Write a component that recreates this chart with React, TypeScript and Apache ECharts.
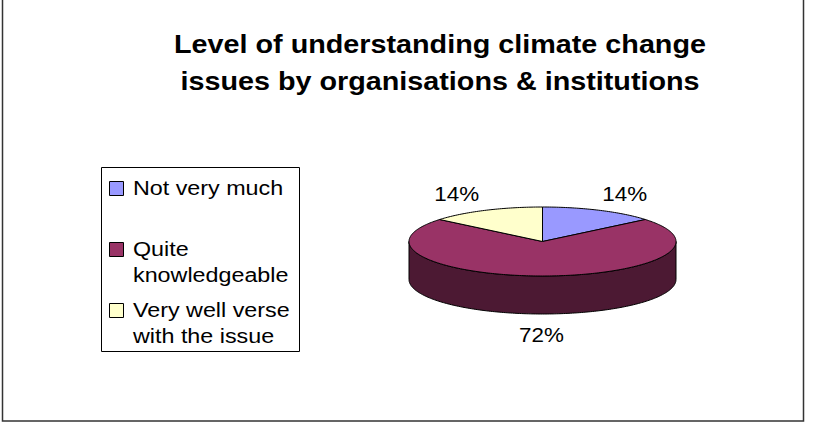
import React, { useEffect, useRef } from "react";
import * as echarts from "echarts";

// ---- data ----
const categories = ["Not very much", "Quite knowledgeable", "Very well verse with the issue"];
const shares = [14, 72, 14];
const topColors = ["#9999FF", "#993366", "#FFFFCC"];
const sideColors = ["#4D4D80", "#4C1933", "#808066"];
const titleLines = ["Level of understanding climate change", "issues by organisations & institutions"];

// ---- layout ----
const FONT = "'Liberation Sans', Arial, sans-serif";
const CX = 542.5;
const CY = 241.5;
const RX = 133.5;
const RY = 34.5;
const DEPTH = 38;
const STRETCH = 1.12;

export default function App() {
  const ref = useRef<HTMLDivElement>(null);

  useEffect(() => {
    if (!ref.current) return;
    const chart = echarts.init(ref.current, null, { renderer: "svg" });

    const total = shares.reduce((a, b) => a + b, 0);
    const starts: number[] = [];
    let acc = 0;
    shares.forEach((v) => {
      starts.push(acc);
      acc += v;
    });

    const pt = (deg: number, dy = 0) => {
      const r = (deg * Math.PI) / 180;
      return [CX + RX * Math.sin(r), CY - RY * Math.cos(r) + dy];
    };
    const arc = (a1: number, a2: number, dy = 0) => {
      const pts: number[][] = [];
      const n = Math.max(2, Math.ceil(Math.abs(a2 - a1)));
      for (let i = 0; i <= n; i++) pts.push(pt(a1 + ((a2 - a1) * i) / n, dy));
      return pts;
    };

    const renderItem = (params: any, api: any) => {
      const i = params.dataIndex;
      const v = api.value(0);
      const a1 = (starts[i] / total) * 360;
      const a2 = a1 + (v / total) * 360;
      const children: any[] = [];
      const s = Math.max(a1, 90);
      const e = Math.min(a2, 270);
      if (e > s) {
        children.push({
          type: "polygon",
          z2: 1,
          shape: { points: [...arc(s, e), ...arc(e, s, DEPTH)] },
          style: { fill: sideColors[i], stroke: "#000", lineWidth: 1, lineJoin: "round" },
        });
      }
      children.push({
        type: "polygon",
        z2: 2,
        shape: { points: [[CX, CY], ...arc(a1, a2)] },
        style: { fill: topColors[i], stroke: "#000", lineWidth: 1, lineJoin: "round" },
      });
      const mid = (a1 + a2) / 2;
      const r = (mid * Math.PI) / 180;
      const sn = Math.sin(r);
      const cs = Math.cos(r);
      const upper = cs >= 0;
      const p = pt(mid, upper ? 0 : DEPTH);
      const align = sn > 0.15 ? "left" : sn < -0.15 ? "right" : "center";
      const lx = p[0] + (align === "left" ? 3 : align === "right" ? -6.5 : -1);
      const ly = upper ? p[1] - 16.5 : p[1] + 21;
      children.push({
        type: "text",
        z2: 3,
        x: lx,
        y: ly,
        scaleX: STRETCH,
        style: {
          text: Math.round((v / total) * 100) + "%",
          fontFamily: FONT,
          fontSize: 20,
          fill: "#000",
          align,
          textAlign: align,
          verticalAlign: "middle",
          textVerticalAlign: "middle",
        },
      });
      return { type: "group", children };
    };

    const graphics: any[] = [
      {
        type: "rect",
        shape: { x: 2.5, y: -10, width: 801, height: 431 },
        style: { fill: "transparent", stroke: "#333", lineWidth: 1.5 },
        silent: true,
      },
    ];
    titleLines.forEach((t, k) => {
      graphics.push({
        type: "text",
        x: 440,
        y: 44.5 + k * 37,
        scaleX: 1.15,
        style: {
          text: t,
          fontFamily: FONT,
          fontSize: 25,
          fontWeight: "bold",
          fill: "#000",
          align: "center",
          textAlign: "center",
          verticalAlign: "middle",
          textVerticalAlign: "middle",
        },
      });
    });
    graphics.push({
      type: "rect",
      shape: { x: 101.5, y: 167.5, width: 198, height: 184 },
      style: { fill: "#fff", stroke: "#000", lineWidth: 1 },
    });
    categories.forEach((c, k) => {
      const top = 181 + k * 61;
      graphics.push({
        type: "rect",
        shape: { x: 109.5, y: top + 0.5, width: 14, height: 14 },
        style: { fill: topColors[k], stroke: "#000", lineWidth: 1 },
        z: 1,
      });
      graphics.push({
        type: "text",
        x: 133,
        y: top - 6.5,
        scaleX: 1.11,
        z: 1,
        style: {
          text: c,
          width: 150,
          overflow: "break",
          fontFamily: FONT,
          fontSize: 21,
          lineHeight: 26,
          fill: "#000",
          align: "left",
          textAlign: "left",
          verticalAlign: "top",
          textVerticalAlign: "top",
        },
      });
    });

    chart.setOption({
      animation: false,
      backgroundColor: "#fff",
      graphic: graphics,
      series: [
        {
          type: "custom",
          name: "Level of understanding",
          coordinateSystem: "none",
          renderItem,
          data: shares.map((v, k) => ({ name: categories[k], value: [v] })),
        },
      ],
    });

    return () => chart.dispose();
  }, []);

  return (
    <div
      ref={ref}
      style={{ position: "fixed", left: 0, top: 0, width: 814, height: 426 }}
    />
  );
}
